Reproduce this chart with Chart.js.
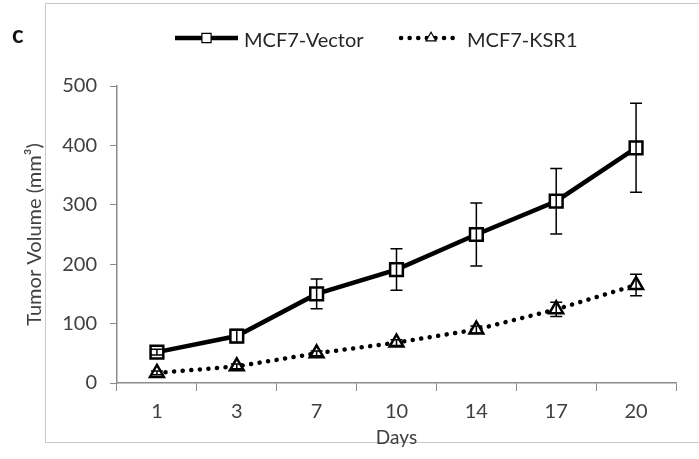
<!DOCTYPE html>
<html>
<head>
<meta charset="utf-8">
<script src="https://cdn.jsdelivr.net/npm/chart.js@4"></script>
<style>
  html, body { margin: 0; padding: 0; background: #fff; }
  #wrap { position: relative; width: 699px; height: 459px; }
  #frame { position: absolute; left: 45px; top: 3px; width: 700px; height: 440px;
           border: 1px solid #c8c8c8; border-right: none; box-sizing: border-box; }
  canvas { position: absolute; left: 0; top: 0; }
</style>
</head>
<body>
<div id="wrap">
  <div id="frame"></div>
  <canvas id="tumorChart" width="699" height="459"></canvas>
</div>
<script>
const days = ['1', '3', '7', '10', '14', '17', '20'];
const vector = [52, 79, 150, 191, 250, 306, 396];
const vectorErr = [5, 11, 25, 35, 53, 55, 75];
const ksr1 = [17, 28, 50, 68, 90, 124, 165];
const ksr1Err = [3, 4, 4, 5, 6, 12, 18];
const yTicks = [0, 100, 200, 300, 400, 500];

const FONT = 'Lato, sans-serif';
const TEXT = '#404040';
const AXIS = '#8c8c8c';

// vertical error bars with caps, drawn from each dataset's err array
const errorBars = {
  id: 'errorBars',
  afterDatasetsDraw(chart) {
    const ctx = chart.ctx;
    const y = chart.scales.y;
    chart.data.datasets.forEach((ds, i) => {
      const meta = chart.getDatasetMeta(i);
      ctx.save();
      ctx.strokeStyle = '#000';
      ctx.lineWidth = 1.5;
      meta.data.forEach((pt, j) => {
        const v = ds.data[j], e = ds.err[j];
        const top = y.getPixelForValue(v + e);
        const bot = y.getPixelForValue(v - e);
        ctx.beginPath();
        ctx.moveTo(pt.x, top); ctx.lineTo(pt.x, bot);
        ctx.moveTo(pt.x - 6, top); ctx.lineTo(pt.x + 6, top);
        ctx.moveTo(pt.x - 6, bot); ctx.lineTo(pt.x + 6, bot);
        ctx.stroke();
      });
      ctx.restore();
    });
  }
};

// legend (line sample + marker + label) and the panel letter
const lineLegend = {
  id: 'lineLegend',
  afterDraw(chart) {
    const ctx = chart.ctx;
    const slots = [{ x0: 175, x1: 238, tx: 244 }, { x0: 401, x1: 461, tx: 467 }];
    const cy = 38;
    ctx.save();
    chart.data.datasets.forEach((ds, i) => {
      const s = slots[i];
      ctx.strokeStyle = '#000';
      ctx.lineWidth = ds.borderWidth;
      ctx.lineCap = ds.borderCapStyle || 'butt';
      ctx.setLineDash(ds.borderDash || []);
      ctx.beginPath(); ctx.moveTo(s.x0, cy); ctx.lineTo(s.x1, cy); ctx.stroke();
      ctx.setLineDash([]);
      ctx.lineWidth = 1.2;
      ctx.fillStyle = '#fff';
      Chart.helpers.drawPoint(ctx, {
        pointStyle: ds.pointStyle, radius: ds.pointRadius * 0.72, borderWidth: 1.2
      }, (s.x0 + s.x1) / 2, cy);
      ctx.fillStyle = '#262626';
      ctx.font = '20px ' + FONT;
      ctx.textBaseline = 'alphabetic';
      ctx.fillText(ds.label, s.tx, 47);
    });
    ctx.fillStyle = '#111';
    ctx.font = 'bold 24px ' + FONT;
    ctx.fillText('c', 12, 43);
    ctx.restore();
  }
};

new Chart(document.getElementById('tumorChart'), {
  type: 'line',
  data: {
    labels: days,
    datasets: [
      {
        label: 'MCF7-Vector', data: vector, err: vectorErr,
        borderColor: '#000', borderWidth: 4.5,
        pointStyle: 'rect', pointRadius: 9, pointBorderWidth: 2.5,
        pointBackgroundColor: '#fff', pointBorderColor: '#000'
      },
      {
        label: 'MCF7-KSR1', data: ksr1, err: ksr1Err,
        borderColor: '#000', borderWidth: 4.5,
        borderDash: [0.1, 8.5], borderCapStyle: 'round',
        pointStyle: 'triangle', pointRadius: 8, pointBorderWidth: 2.5,
        pointBackgroundColor: '#fff', pointBorderColor: '#000'
      }
    ]
  },
  options: {
    responsive: false,
    animation: false,
    layout: { padding: { left: 20, right: 23, top: 86, bottom: 10 } },
    plugins: { legend: { display: false }, tooltip: { enabled: false } },
    scales: {
      x: {
        offset: true,
        grid: { offset: true, drawOnChartArea: false, tickLength: 8, color: AXIS, tickColor: AXIS },
        border: { color: AXIS, width: 1.5 },
        ticks: { color: TEXT, font: { family: FONT, size: 20 }, padding: 9, maxRotation: 0 },
        title: { display: true, text: 'Days', color: TEXT, font: { family: FONT, size: 19 }, padding: { top: 0, bottom: 0 } },
        afterFit(scale) { scale.height = 66; }
      },
      y: {
        min: 0, max: 500,
        afterBuildTicks(scale) { scale.ticks = yTicks.map(v => ({ value: v })); },
        grid: { drawOnChartArea: false, tickLength: 7, color: AXIS, tickColor: AXIS },
        border: { color: AXIS, width: 1.5 },
        ticks: { color: TEXT, font: { family: FONT, size: 20 }, padding: 13 },
        title: { display: true, text: 'Tumor Volume (mm³)', color: TEXT, font: { family: FONT, size: 20 }, padding: { top: 3, bottom: 0 } },
        afterFit(scale) { scale.width = 97; }
      }
    }
  },
  plugins: [errorBars, lineLegend]
});
</script>
</body>
</html>
